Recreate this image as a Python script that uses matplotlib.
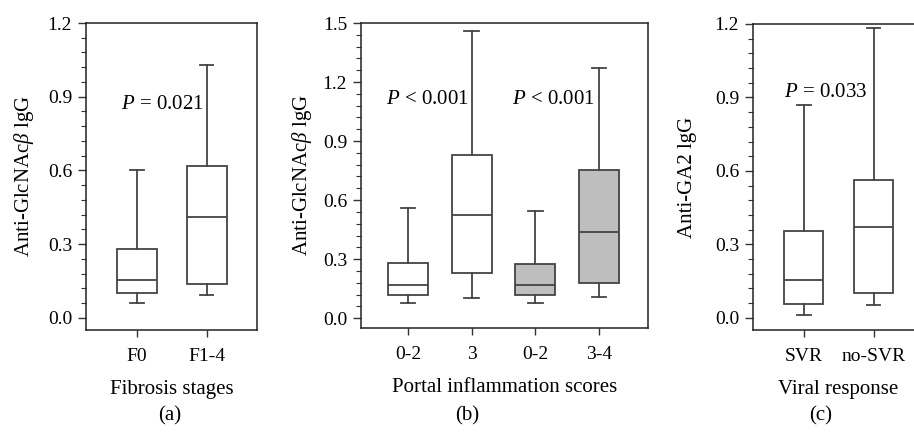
import matplotlib
matplotlib.use('Agg')
import matplotlib.pyplot as plt
from matplotlib.ticker import MultipleLocator

plt.rcParams['font.family'] = ['Liberation Serif', 'DejaVu Serif']
plt.rcParams['mathtext.fontset'] = 'custom'
plt.rcParams['mathtext.rm'] = 'Liberation Serif'
plt.rcParams['mathtext.it'] = 'Liberation Serif:italic'
plt.rcParams['font.size'] = 15

# box statistics: (low whisker, Q1, median, Q3, high whisker)
fib_labels = ['F0', 'F1-4']
fib_low = [0.058, 0.091]
fib_q1 = [0.102, 0.136]
fib_med = [0.152, 0.412]
fib_q3 = [0.281, 0.617]
fib_high = [0.601, 1.031]

portal_labels = ['0-2', '3', '0-2', '3-4']
portal_low = [0.079, 0.100, 0.079, 0.105]
portal_q1 = [0.117, 0.232, 0.118, 0.181]
portal_med = [0.169, 0.526, 0.169, 0.436]
portal_q3 = [0.282, 0.830, 0.274, 0.753]
portal_high = [0.558, 1.458, 0.546, 1.272]
portal_fill = ['white', 'white', '#bebebe', '#bebebe']

vir_labels = ['SVR', 'no-SVR']
vir_low = [0.012, 0.054]
vir_q1 = [0.058, 0.102]
vir_med = [0.154, 0.371]
vir_q3 = [0.356, 0.561]
vir_high = [0.868, 1.185]

line_col = '#444444'


def make_stats(labels, low, q1, med, q3, high):
    return [dict(label=l, whislo=a, q1=b, med=c, q3=d, whishi=e, fliers=[])
            for l, a, b, c, d, e in zip(labels, low, q1, med, q3, high)]


def draw(ax, stats, fills, width, capw, ymax, xlim):
    lp = dict(color=line_col, linewidth=1.3)
    bp = ax.bxp(stats, widths=width, capwidths=capw, patch_artist=True, showfliers=False,
                boxprops=dict(edgecolor=line_col, linewidth=1.3),
                whiskerprops=lp, capprops=lp, medianprops=lp)
    for patch, fc in zip(bp['boxes'], fills):
        patch.set_facecolor(fc)
    ax.set_ylim(-0.05, ymax)
    ax.set_xlim(*xlim)
    ax.yaxis.set_major_locator(MultipleLocator(0.3))
    ax.yaxis.set_minor_locator(MultipleLocator(0.06))
    ax.yaxis.set_major_formatter(plt.FormatStrFormatter('%.1f'))
    ax.tick_params(axis='y', which='major', direction='out', length=6, width=1,
                   color='#333333', labelsize=14, pad=4)
    ax.tick_params(axis='y', which='minor', direction='out', length=3.5, width=0.8, color='#333333')
    ax.tick_params(axis='x', direction='out', length=5, width=1, color='#333333',
                   labelsize=14, pad=8)
    for s in ax.spines.values():
        s.set_color('#222222')
        s.set_linewidth(1.1)


fig = plt.figure(figsize=(9.14, 4.38), dpi=100)
H = 438.0
W = 914.0
bottom = (H - 330) / H
height = 307 / H

ax1 = fig.add_axes([86 / W, bottom, 171 / W, height])
draw(ax1, make_stats(fib_labels, fib_low, fib_q1, fib_med, fib_q3, fib_high),
     ['white', 'white'], 0.58, 0.19, 1.2, (0.27, 2.72))
ax1.set_ylabel(r'Anti-GlcNAc$\it{\beta}$ lgG', labelpad=8)
ax1.set_xlabel('Fibrosis stages', labelpad=11)
ax1.text(1.36, 0.87, r'$P$ = 0.021', ha='center', va='center')

ax2 = fig.add_axes([361 / W, (H - 328) / H, 287 / W, 305 / H])
draw(ax2, make_stats(portal_labels, portal_low, portal_q1, portal_med, portal_q3, portal_high),
     portal_fill, 0.63, 0.23, 1.5, (0.26, 4.77))
ax2.set_ylabel(r'Anti-GlcNAc$\it{\beta}$ lgG', labelpad=6)
ax2.set_xlabel('Portal inflammation scores', labelpad=11)
ax2.text(1.30, 1.11, r'$P$ < 0.001', ha='center', va='center')
ax2.text(3.28, 1.11, r'$P$ < 0.001', ha='center', va='center')

ax3 = fig.add_axes([753 / W, bottom, 171 / W, 306 / H])
draw(ax3, make_stats(vir_labels, vir_low, vir_q1, vir_med, vir_q3, vir_high),
     ['white', 'white'], 0.56, 0.19, 1.2, (0.27, 2.72))
ax3.set_ylabel('Anti-GA2 lgG', labelpad=13)
ax3.set_xlabel('Viral response', labelpad=11)
ax3.text(1.31, 0.92, r'$P$ = 0.033', ha='center', va='center')

fig.text(170 / W, 1 - 416 / H, '(a)', ha='center', va='center')
fig.text(467 / W, 1 - 416 / H, '(b)', ha='center', va='center')
fig.text(821 / W, 1 - 416 / H, '(c)', ha='center', va='center')

fig.savefig('out.png', dpi=100)
